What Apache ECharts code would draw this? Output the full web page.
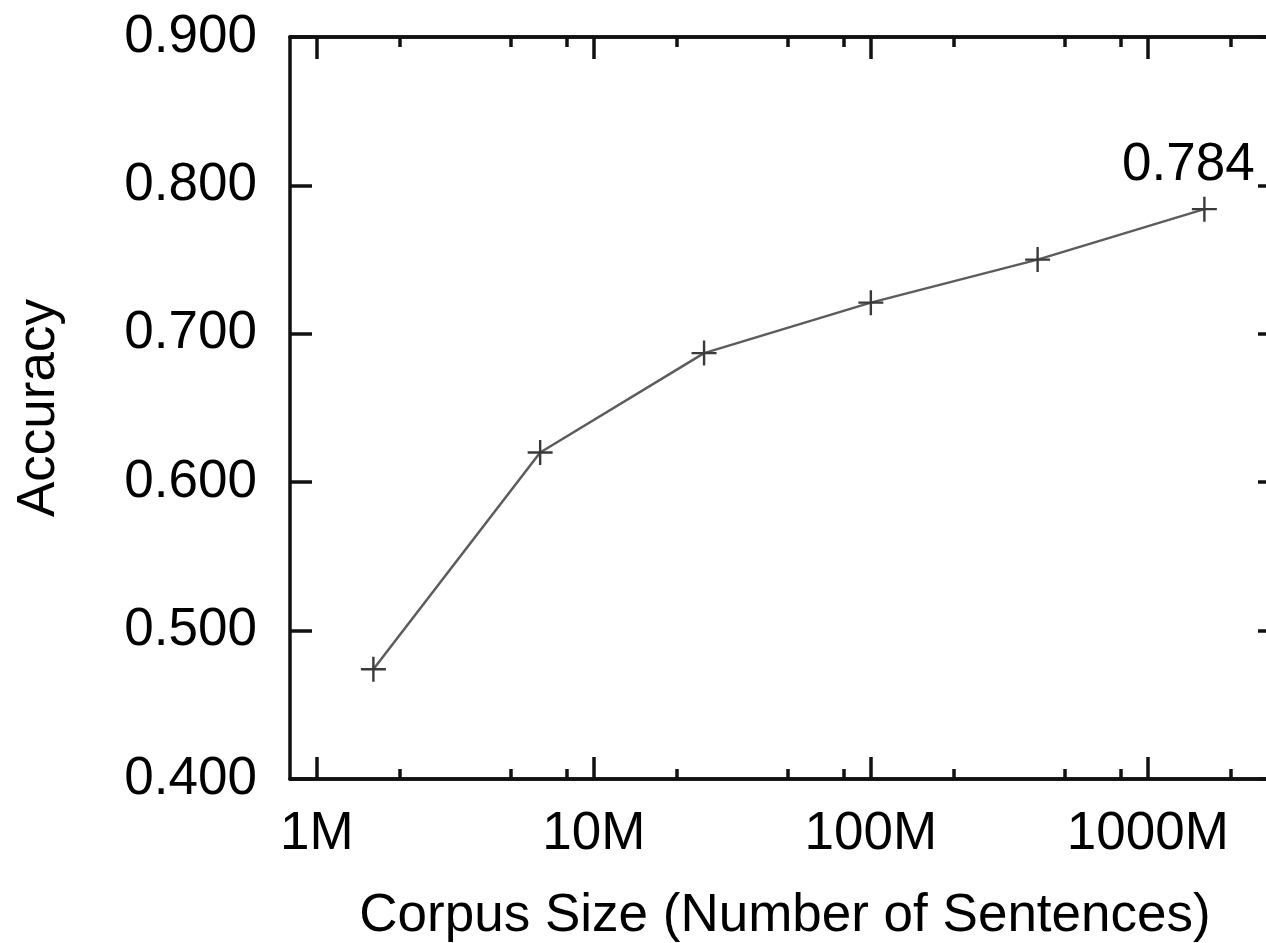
<!DOCTYPE html>
<html>
<head>
<meta charset="utf-8">
<script src="https://cdn.jsdelivr.net/npm/echarts@6/dist/echarts.min.js"></script>
<style>
html,body{margin:0;padding:0;background:#fff;}
#chart{width:1266px;height:943px;}
</style>
</head>
<body>
<div id="chart"></div>
<script>
// Data
var corpusSizes = [1.6, 6.4, 25, 100, 400, 1600];   // millions of sentences
var accuracy = [0.474, 0.620, 0.687, 0.721, 0.750, 0.784];
var xMajorTicks = [1, 10, 100, 1000];
var xMinorTicks = [2, 5, 8, 20, 50, 80, 200, 500, 800, 2000];
var xLabelText = ['1M', '10M', '100M', '1000M'];
var yTicks = [0.4, 0.5, 0.6, 0.7, 0.8, 0.9];
var xTitle = 'Corpus Size (Number of Sentences)';
var yTitle = 'Accuracy';
var annotatedIndex = 5;

var FONT = 'Liberation Sans, Arial, Helvetica, sans-serif';
var FS = 53;
var AXC = '#111';
var AXW = 3.5;

var xMin = 0.8, xMax = 3000;

function xAxisBase(pos, ticks, len, withLabels) {
  return {
    type: 'log',
    logBase: 10,
    position: pos,
    min: xMin,
    max: xMax,
    axisLine: {show: true, lineStyle: {color: AXC, width: AXW}},
    axisTick: {show: true, inside: true, length: len, customValues: ticks,
               lineStyle: {color: AXC, width: AXW}},
    axisLabel: withLabels ? {
      show: true,
      customValues: xMajorTicks,
      margin: 29,
      fontFamily: FONT, fontSize: FS, color: '#000',
      formatter: function (v) {
        var i = xMajorTicks.indexOf(Math.round(v));
        return i >= 0 ? xLabelText[i] : '';
      }
    } : {show: false},
    splitLine: {show: false},
    minorTick: {show: false}
  };
}

var xAxes = [
  xAxisBase('bottom', xMajorTicks, 22, true),
  xAxisBase('bottom', xMinorTicks, 10, false),
  xAxisBase('top', xMajorTicks, 22, false),
  xAxisBase('top', xMinorTicks, 10, false)
];
xAxes[0].name = xTitle;
xAxes[0].nameLocation = 'middle';
xAxes[0].nameGap = 111;
xAxes[0].nameTextStyle = {fontFamily: FONT, fontSize: FS, color: '#000'};

var yAxes = [
  {
    type: 'value', position: 'left', min: 0.4, max: 0.9, interval: 0.1,
    name: yTitle, nameLocation: 'middle', nameGap: 224,
    nameTextStyle: {fontFamily: FONT, fontSize: FS, color: '#000'},
    axisLine: {show: true, lineStyle: {color: AXC, width: AXW}},
    axisTick: {show: true, inside: true, length: 22, lineStyle: {color: AXC, width: AXW}},
    axisLabel: {show: true, margin: 33, fontFamily: FONT, fontSize: FS, color: '#000',
                formatter: function (v) { return v.toFixed(3); }},
    splitLine: {show: false}
  },
  {
    type: 'value', position: 'right', min: 0.4, max: 0.9, interval: 0.1,
    axisLine: {show: true, lineStyle: {color: AXC, width: AXW}},
    axisTick: {show: true, inside: true, length: 22, lineStyle: {color: AXC, width: AXW}},
    axisLabel: {show: false},
    splitLine: {show: false}
  }
];

var seriesData = corpusSizes.map(function (s, i) {
  var d = {value: [s, accuracy[i]]};
  if (i === annotatedIndex) {
    d.label = {
      show: true, position: 'top', distance: 2, offset: [-16, 0],
      fontFamily: FONT, fontSize: FS, color: '#000',
      formatter: function (p) { return p.value[1].toFixed(3); }
    };
  }
  return d;
});

var chart = echarts.init(document.getElementById('chart'), null, {renderer: 'canvas'});
chart.setOption({
  animation: false,
  backgroundColor: '#fff',
  grid: {left: 290, top: 37, bottom: 164, right: -14, containLabel: false, outerBoundsMode: 'none'},
  xAxis: xAxes,
  yAxis: yAxes,
  series: [{
    type: 'line',
    xAxisIndex: 0,
    yAxisIndex: 0,
    data: seriesData,
    lineStyle: {color: '#5c5c5c', width: 2.5},
    symbol: 'path://M12,0 L12,24 M0,12 L24,12',
    symbolSize: 25,
    symbolKeepAspect: true,
    showAllSymbol: true,
    itemStyle: {color: 'none', borderColor: '#3a3a3a', borderWidth: 2.4},
    emphasis: {disabled: true},
    z: 5
  }]
});
</script>
</body>
</html>
